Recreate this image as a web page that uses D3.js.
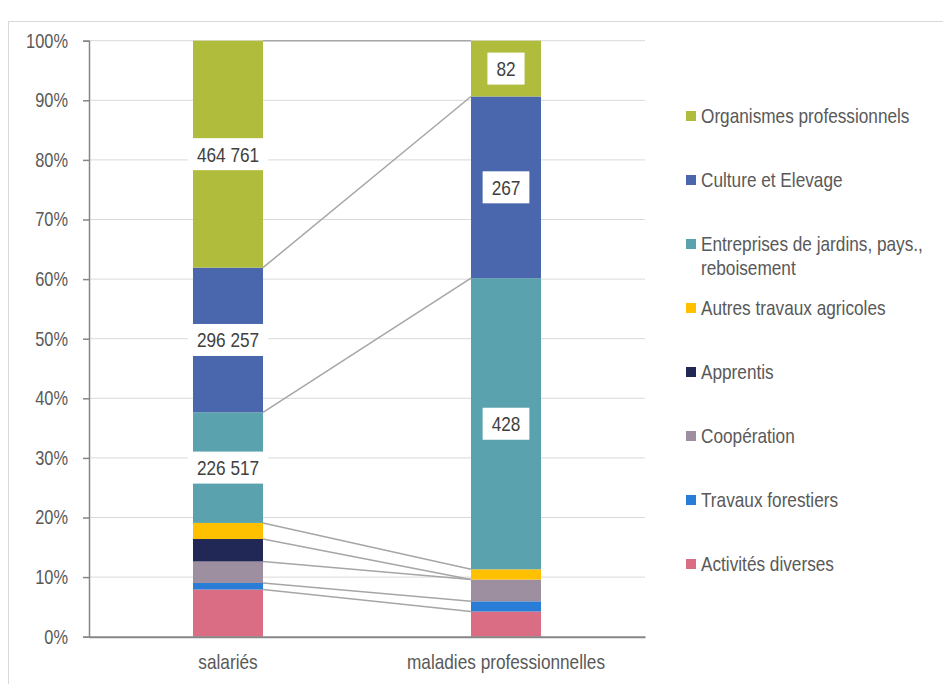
<!DOCTYPE html>
<html><head><meta charset="utf-8">
<script src="https://cdn.jsdelivr.net/npm/d3@7"></script>
<style>body{margin:0;background:#fff}svg{display:block}text{font-family:"Liberation Sans",Arial,sans-serif}</style>
</head><body><svg id="c" width="943" height="684"></svg>
<script>
const categories = ["salariés", "maladies professionnelles"];
const seriesNames = ["Activités diverses", "Travaux forestiers", "Coopération", "Apprentis",
  "Autres travaux agricoles", "Entreprises de jardins, pays., reboisement", "Culture et Elevage", "Organismes professionnels"];
const legendLines = [["Activités diverses"], ["Travaux forestiers"], ["Coopération"], ["Apprentis"],
  ["Autres travaux agricoles"], ["Entreprises de jardins, pays.,", "reboisement"], ["Culture et Elevage"], ["Organismes professionnels"]];
const salaries = [96600, 13450, 44000, 46000, 33000, 226517, 296257, 464761];
const maladies = [37, 15, 32, 0, 15, 428, 267, 82];
const labelled = [false, false, false, false, false, true, true, true];
const colors = ["#da6c83", "#2a7dd6", "#9e8fa0", "#222855", "#ffc000", "#5aa3ae", "#4a67ad", "#b0bc3c"];
const yTicks = [0, 0.1, 0.2, 0.3, 0.4, 0.5, 0.6, 0.7, 0.8, 0.9, 1];

(function () {
const NARROW = 0.82;
// horizontally condense a text around its own x anchor
function narrow(sel) {
  sel.each(function () {
    const t = d3.select(this);
    const ax = +t.attr("x") || 0;
    const prev = t.attr("transform") || "";
    t.attr("transform", `${prev} translate(${ax},0) scale(${NARROW},1) translate(${-ax},0)`);
  });
}
const svg = d3.select("#c");
svg.append("rect").attr("x", 8.5).attr("y", 21.5).attr("width", 940).attr("height", 670)
  .attr("fill", "none").attr("stroke", "#d9d9d9");

const pLeft = 89, pRight = 645, pTop = 40.7, pBottom = 636.7;
const x = d3.scaleBand().domain(categories).range([pLeft, pRight]);
const y = d3.scaleLinear().domain([0, 1]).range([pBottom, pTop]);
const barW = 70;
const fmt = v => d3.format(",")(v).replace(/,/g, " ");

svg.append("g").selectAll("line").data(yTicks.filter(d => d > 0)).join("line")
  .attr("x1", pLeft).attr("x2", pRight).attr("y1", d => y(d)).attr("y2", d => y(d))
  .attr("stroke", "#d9d9d9").attr("stroke-width", 1);

const raw = [salaries, maladies];
const stacks = raw.map(vals => {
  const tot = d3.sum(vals); let c = 0;
  return vals.map((v, i) => { const s = { y0: c / tot, y1: (c + v) / tot, v, i }; c += v; return s; });
});

const lineG = svg.append("g");
for (let i = 0; i < seriesNames.length; i++) {
  const a = stacks[0][i], b = stacks[1][i];
  lineG.append("line")
    .attr("x1", x(categories[0]) + x.bandwidth() / 2 + barW / 2)
    .attr("x2", x(categories[1]) + x.bandwidth() / 2 - barW / 2)
    .attr("y1", y(a.y1)).attr("y2", y(b.y1))
    .attr("stroke", "#a6a6a6").attr("stroke-width", 1.5);
}

categories.forEach((cat, ci) => {
  const cx = x(cat) + x.bandwidth() / 2;
  const g = svg.append("g");
  g.selectAll("rect").data(stacks[ci].filter(d => d.v > 0)).join("rect")
    .attr("x", cx - barW / 2).attr("width", barW)
    .attr("y", d => y(d.y1)).attr("height", d => y(d.y0) - y(d.y1))
    .attr("fill", d => colors[d.i]);
  stacks[ci].filter(d => labelled[d.i]).forEach(d => {
    const cy = y((d.y0 + d.y1) / 2);
    const t = g.append("text").attr("x", cx).attr("y", cy).attr("dy", "0.35em")
      .attr("text-anchor", "middle").attr("font-size", 21).attr("fill", "#404040").text(fmt(d.v));
    const w = t.node().getComputedTextLength() * NARROW;
    narrow(t);
    g.insert("rect", "text").attr("x", cx - w / 2 - 9).attr("y", cy - 16).attr("width", w + 18).attr("height", 32)
      .attr("fill", "#fff");
  });
});

const yAxis = svg.append("g").attr("transform", `translate(${pLeft},0)`)
  .call(d3.axisLeft(y).tickValues(yTicks).tickFormat(d3.format(".0%")).tickSize(6).tickPadding(15));
yAxis.select(".domain").attr("stroke", "#868686").attr("stroke-width", 1.5);
yAxis.selectAll(".tick line").attr("stroke", "#868686").attr("stroke-width", 1.5);
yAxis.selectAll("text").attr("font-size", 20).attr("fill", "#595959").attr("font-family", '"Liberation Sans",Arial,sans-serif').call(narrow);

const xAxis = svg.append("g").attr("transform", `translate(0,${pBottom})`)
  .call(d3.axisBottom(x).tickSize(0).tickPadding(17));
xAxis.select(".domain").attr("stroke", "#868686").attr("stroke-width", 2);
xAxis.selectAll("text").attr("font-size", 21).attr("fill", "#595959").attr("font-family", '"Liberation Sans",Arial,sans-serif').call(narrow);

const legY = d3.scalePoint().domain(d3.range(8)).range([116, 564]);
const leg = svg.append("g");
d3.range(8).forEach(k => {
  const i = 7 - k;
  const yy = legY(k);
  leg.append("rect").attr("x", 686).attr("y", yy - 5).attr("width", 10).attr("height", 10).attr("fill", colors[i]);
  legendLines[i].forEach((ln, j) => {
    leg.append("text").attr("x", 701).attr("y", yy + j * 24).attr("dy", "0.35em")
      .attr("font-size", 21).attr("fill", "#595959").text(ln).call(narrow);
  });
});
})();
</script></body></html>
